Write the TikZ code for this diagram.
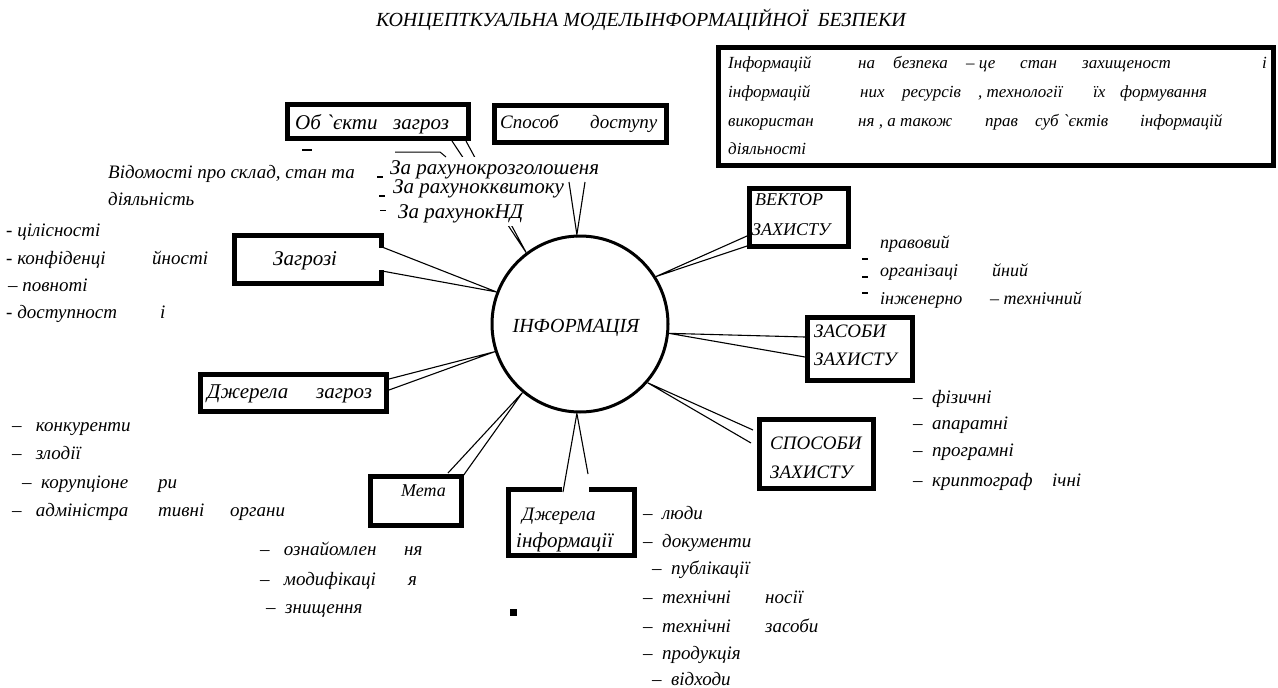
\documentclass[tikz,border=0pt]{standalone}
\usepackage{fontspec}
\setmainfont{Liberation Serif}
\newfontfamily\rawserif{Liberation Serif}
\newcommand\grv{{\rawserif\char"0060\relax}}
\begin{document}
\begin{tikzpicture}[x=1pt,y=-1pt,
  bx/.style={draw, line width=5pt, fill=white, inner sep=0pt},
  tx/.style={font=\itshape\fontsize{19}{21}\selectfont, inner sep=0pt, anchor=base west},
  sm/.style={font=\itshape\fontsize{17}{19}\selectfont},
  md/.style={font=\itshape\fontsize{18}{20}\selectfont},
  big/.style={font=\itshape\fontsize{21}{23}\selectfont},
  ttl/.style={font=\itshape\fontsize{20}{22}\selectfont, inner sep=0pt, anchor=base},
  wedge/.style={line width=1.1pt},
  tick/.style={line width=2pt}]
\useasboundingbox[fill=white] (0,0) rectangle (1278,688);

% title
\node[ttl] (title) at (641,26) {КОНЦЕПТКУАЛЬНА МОДЕЛЬІНФОРМАЦІЙНОЇ\ \ БЕЗПЕКИ};

% central circle
\node[circle, draw, line width=3pt, minimum size=176pt, inner sep=0pt] (info) at (580,324) {};
\node[ttl] (infotext) at (576,332) {ІНФОРМАЦІЯ};

% boxes
\node[bx, minimum width=181pt, minimum height=34pt] (obj) at (378,121.5) {};
\node[bx, minimum width=172pt, minimum height=37pt] (dostup) at (580.5,124) {};
\node[bx, minimum width=555pt, minimum height=118pt] (defn) at (996,106.5) {};
\node[bx, minimum width=99pt, minimum height=58pt] (vector) at (799,217.5) {};
\node[bx, minimum width=147pt, minimum height=48pt] (zagr) at (308,259.5) {};
\node[bx, minimum width=105pt, minimum height=63pt] (zasoby) at (860,349) {};
\node[bx, minimum width=186pt, minimum height=37pt] (dzhz) at (293.5,393) {};
\node[bx, minimum width=114pt, minimum height=69pt] (sposoby) at (816.5,454) {};
\node[bx, minimum width=91pt, minimum height=49pt] (meta) at (416,501) {};
\node[bx, minimum width=126pt, minimum height=66pt] (dzhi) at (571.5,522.5) {};

% openings where wedges meet the boxes
\fill[white] (378.5,248) rectangle (386,270);
\fill[white] (562,484) rectangle (589,495);

% wedge ends
\coordinate (o1) at (452,141);   \coordinate (o2) at (466,141);
\coordinate (d1) at (569,182);   \coordinate (d2) at (585,182);
\coordinate (v1) at (747,236);   \coordinate (v2) at (747,246);
\coordinate (z1) at (805,337);   \coordinate (z2) at (805,357);
\coordinate (s1) at (753,430);   \coordinate (s2) at (751,443);
\coordinate (i1) at (563,492);   \coordinate (i2) at (588,474);
\coordinate (m1) at (448,473);   \coordinate (m2) at (463,476);
\coordinate (j1) at (389,379);   \coordinate (j2) at (389,390);
\coordinate (g1) at (382,247);   \coordinate (g2) at (382,271);

% wedge connectors
\draw[wedge] (o1) -- (info.127) -- (o2);
\draw[wedge] (d1) -- (info.92) -- (d2);
\draw[wedge] (v1) -- (info.32) -- (v2);
\draw[wedge] (z1) -- (info.-6) -- (z2);
\draw[wedge] (s1) -- (info.-41) -- (s2);
\draw[wedge] (i1) -- (info.-92) -- (i2);
\draw[wedge] (m1) -- (info.-130) -- (m2);
\draw[wedge] (j1) -- (info.198) -- (j2);
\draw[wedge] (g1) -- (info.159) -- (g2);

% white ground under the access list
\fill[white] (376,157) rectangle (598,180);
\fill[white] (376,180) rectangle (514,226);

% box labels
\node[tx,big] (objt) at (295,129) {Об \grv єкти};
\node[tx,big] (objt2) at (393,129) {загроз};
\node[tx] (dostupt) at (500,128) {Способ};
\node[tx] (dostupt2) at (590,128) {доступу};
\node[tx,md] (vect1) at (755,205) {ВЕКТОР};
\node[tx,md] (vect2) at (752,235) {ЗАХИСТУ};
\node[tx,big] (zagrt) at (273,265) {Загрозі};
\node[tx] (zas1) at (814,337) {ЗАСОБИ};
\node[tx] (zas2) at (814,365) {ЗАХИСТУ};
\node[tx,big] (dzhzt) at (207,398) {Джерела};
\node[tx,big] (dzhzt2) at (316,398) {загроз};
\node[tx] (spos1) at (770,449) {СПОСОБИ};
\node[tx] (spos2) at (770,478) {ЗАХИСТУ};
\node[tx,md] (metat) at (401,496) {Мета};
\node[tx] (dzhi1) at (522,520) {Джерела};
\node[tx,big] (dzhi2) at (516,547) {інформації};

% definition text
\node[tx,sm] (a1) at (728,68) {Інформацій};
\node[tx,sm] (a2) at (858,68) {на};
\node[tx,sm] (a3) at (893,68) {безпека};
\node[tx,sm] (a4) at (966,68) {– це};
\node[tx,sm] (a5) at (1020,68) {стан};
\node[tx,sm] (a6) at (1082,68) {захищеност};
\node[tx,sm] (a7) at (1262,68) {і};
\node[tx,sm] (b1) at (728,97) {інформацій};
\node[tx,sm] (b2) at (860,97) {них};
\node[tx,sm] (b3) at (902,97) {ресурсів};
\node[tx,sm] (b4) at (978,97) {, технології};
\node[tx,sm] (b5) at (1093,97) {їх};
\node[tx,sm] (b6) at (1120,97) {формування};
\node[tx,sm] (c1) at (728,126) {використан};
\node[tx,sm] (c2) at (858,126) {ня , а також};
\node[tx,sm] (c3) at (985,126) {прав};
\node[tx,sm] (c4) at (1035,126) {суб \grv єктів};
\node[tx,sm] (c5) at (1140,126) {інформацій};
\node[tx,sm] (d1t) at (728,154) {діяльності};

% objects of threats
\draw[tick] (302,150) -- (312,150);
\draw[line width=1pt] (395,152) -- (440,152) -- (446,157);
\node[tx] (vid1) at (108,178) {Відомості про склад, стан та};
\node[tx] (vid2) at (108,205) {діяльність};

% access methods
\draw[tick] (377,177) -- (383,177);
\draw[tick] (379,196) -- (385,196);
\draw[line width=1pt] (380,210) -- (386,210);
\node[tx,big] (acc1) at (390,174) {За рахунокрозголошеня};
\node[tx,big] (acc2) at (393,193) {За рахунокквитоку};
\node[tx,big] (acc3) at (398,218) {За рахунокНД};

% threats
\node[tx] (t1) at (6,236) {-\ цілісності};
\node[tx] (t2) at (6,264) {-\ конфіденці};
\node[tx] (t2b) at (152,264) {йності};
\node[tx] (t3) at (8,291) {–\ повноті};
\node[tx] (t4) at (6,318) {-\ доступност};
\node[tx] (t4b) at (160,318) {і};

% protection vector
\draw[tick] (862,259) -- (868,259);
\draw[tick] (862,277) -- (868,277);
\draw[tick] (862,293) -- (868,293);
\node[tx,md] (p1) at (880,248) {правовий};
\node[tx,md] (p2) at (880,276) {організаці};
\node[tx,md] (p2b) at (992,276) {йний};
\node[tx,md] (p3) at (880,304) {інженерно};
\node[tx,md] (p3b) at (990,304) {– технічний};

% protection means
\node[tx] (f1) at (913,403) {–\ \ фізичні};
\node[tx] (f2) at (913,429) {–\ \ апаратні};
\node[tx] (f3) at (913,456) {–\ \ програмні};
\node[tx] (f4) at (913,486) {–\ \ криптограф};
\node[tx] (f4b) at (1052,486) {ічні};

% threat sources
\node[tx] (k1) at (12,431) {–\ \ \ конкуренти};
\node[tx] (k2) at (12,459) {–\ \ \ злодії};
\node[tx] (k3) at (22,488) {–\ \ корупціоне};
\node[tx] (k3b) at (158,488) {ри};
\node[tx] (k4) at (12,516) {–\ \ \ адміністра};
\node[tx] (k4b) at (158,516) {тивні};
\node[tx] (k4c) at (230,516) {органи};

% goals
\node[tx] (g1t) at (260,555) {–\ \ \ ознайомлен};
\node[tx] (g1b) at (404,555) {ня};
\node[tx] (g2t) at (260,585) {–\ \ \ модифікаці};
\node[tx] (g2b) at (408,585) {я};
\node[tx] (g3t) at (266,613) {–\ \ знищення};

% information sources
\node[tx] (s1t) at (643,519) {–\ \ люди};
\node[tx] (s2t) at (643,547) {–\ \ документи};
\node[tx] (s3t) at (652,574) {–\ \ публікації};
\node[tx] (s4t) at (643,603) {–\ \ технічні};
\node[tx] (s4b) at (765,603) {носії};
\node[tx] (s5t) at (643,632) {–\ \ технічні};
\node[tx] (s5b) at (765,632) {засоби};
\node[tx] (s6t) at (643,659) {–\ \ продукція};
\node[tx] (s7t) at (652,685) {–\ \ відходи};

\fill (510,609) rectangle (517,616);
\end{tikzpicture}
\end{document}
